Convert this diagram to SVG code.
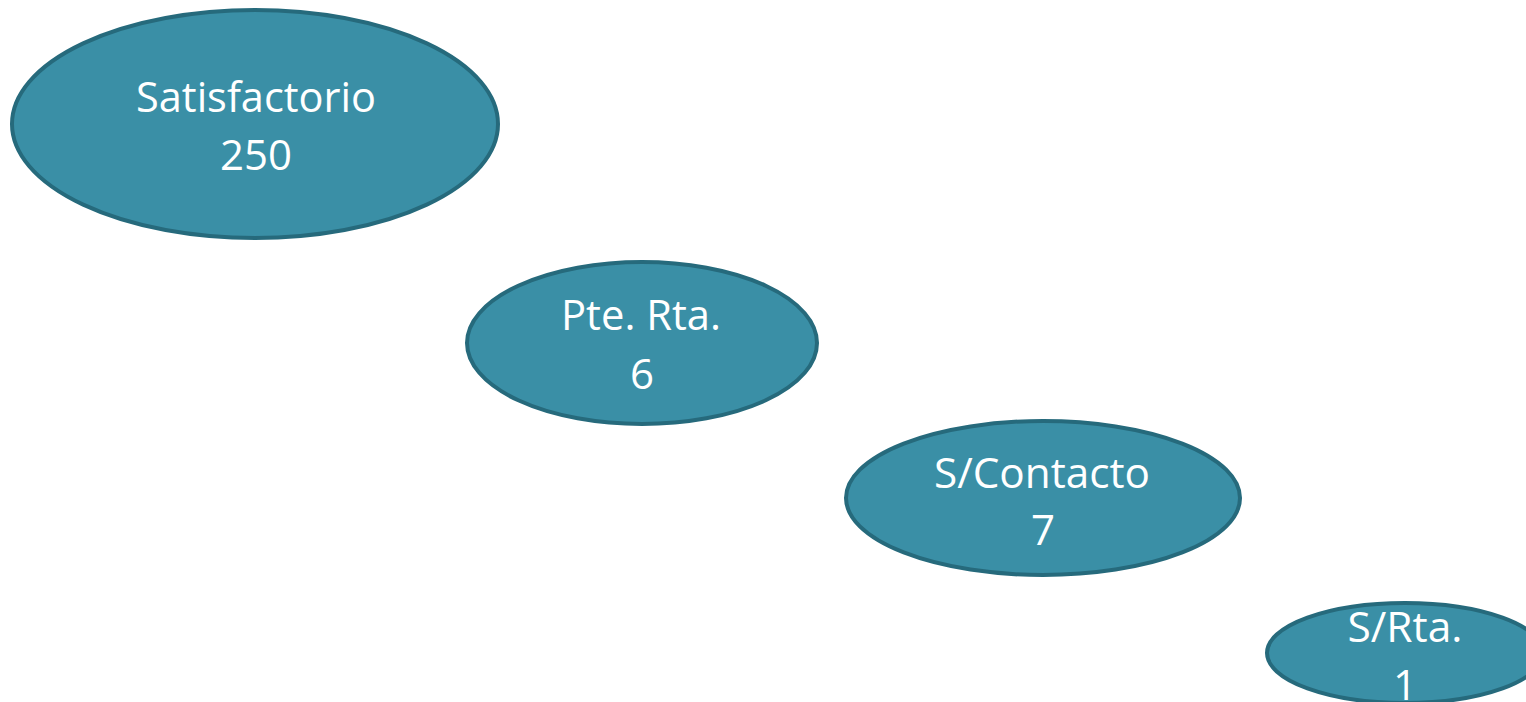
<svg xmlns="http://www.w3.org/2000/svg" width="1526" height="702" viewBox="0 0 1526 702">
<style>
.n{fill:#3a8fa6;stroke:#266a7c;stroke-width:4}
.t{fill:#ffffff;font-family:"Open Sans","Noto Sans",sans-serif;font-size:42px;text-anchor:middle}
</style>
<rect width="1526" height="702" fill="#ffffff"/>
<g id="connectors"></g>
<g id="n1">
<ellipse class="n" cx="255" cy="124" rx="243" ry="114"/>
<text class="t" x="256" y="112" textLength="240" lengthAdjust="spacingAndGlyphs">Satisfactorio</text>
<text class="t" x="256" y="170" textLength="72" lengthAdjust="spacingAndGlyphs">250</text>
</g>
<g id="n2">
<ellipse class="n" cx="642" cy="343" rx="175" ry="81"/>
<text class="t" x="641" y="330" textLength="160" lengthAdjust="spacingAndGlyphs">Pte. Rta.</text>
<text class="t" x="642" y="389">6</text>
</g>
<g id="n3">
<ellipse class="n" cx="1043" cy="498" rx="197" ry="77"/>
<text class="t" x="1042" y="488" textLength="216" lengthAdjust="spacingAndGlyphs">S/Contacto</text>
<text class="t" x="1043" y="545">7</text>
</g>
<g id="n4">
<ellipse class="n" cx="1405" cy="653" rx="138" ry="50"/>
<text class="t" x="1405" y="642" textLength="115" lengthAdjust="spacingAndGlyphs">S/Rta.</text>
<text class="t" x="1405" y="700">1</text>
</g>
</svg>
